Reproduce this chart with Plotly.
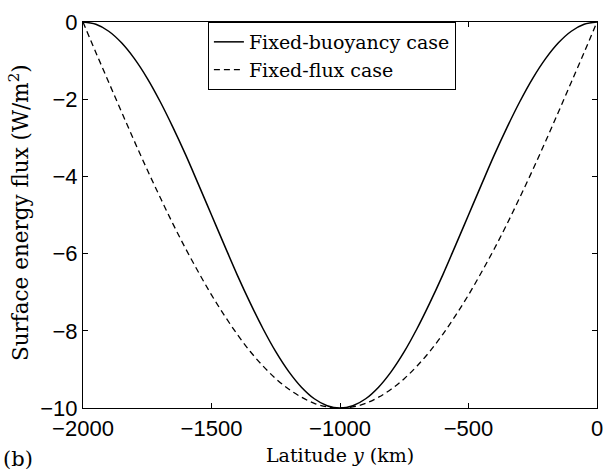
import plotly.graph_objects as go

# Latitude (km)
latitude = [-2000, -1950, -1900, -1850, -1800, -1750, -1700, -1650, -1600, -1550,
            -1500, -1450, -1400, -1350, -1300, -1250, -1200, -1150, -1100, -1050,
            -1000, -950, -900, -850, -800, -750, -700, -650, -600, -550,
            -500, -450, -400, -350, -300, -250, -200, -150, -100, -50, 0]

# Surface energy flux (W/m^2)
fixed_buoyancy = [0.00, -0.06, -0.24, -0.54, -0.95, -1.46, -2.06, -2.73, -3.45, -4.22,
                  -5.00, -5.78, -6.55, -7.27, -7.94, -8.54, -9.05, -9.46, -9.76, -9.94,
                  -10.00, -9.94, -9.76, -9.46, -9.05, -8.54, -7.94, -7.27, -6.55, -5.78,
                  -5.00, -4.22, -3.45, -2.73, -2.06, -1.46, -0.95, -0.54, -0.24, -0.06, 0.00]
fixed_flux = [0.00, -0.79, -1.56, -2.33, -3.09, -3.83, -4.54, -5.23, -5.88, -6.49,
              -7.07, -7.60, -8.09, -8.53, -8.91, -9.24, -9.51, -9.72, -9.88, -9.97,
              -10.00, -9.97, -9.88, -9.72, -9.51, -9.24, -8.91, -8.53, -8.09, -7.60,
              -7.07, -6.49, -5.88, -5.23, -4.54, -3.83, -3.09, -2.33, -1.56, -0.79, 0.00]

x_ticks = [-2000, -1500, -1000, -500, 0]
x_ticktext = ["\u22122000", "\u22121500", "\u22121000", "\u2212500", "0"]
y_ticks = [-10, -8, -6, -4, -2, 0]
y_ticktext = ["\u221210", "\u22128", "\u22126", "\u22124", "\u22122", "0"]

serif = "DejaVu Serif"
sans = "Liberation Sans, Arial, sans-serif"

fig = go.Figure()
fig.add_trace(go.Scatter(x=latitude, y=fixed_buoyancy, mode="lines",
                         name="Fixed-buoyancy case",
                         line=dict(color="black", width=1.5, shape="spline")))
fig.add_trace(go.Scatter(x=latitude, y=fixed_flux, mode="lines",
                         name="Fixed-flux case",
                         line=dict(color="black", width=1.3, dash="6px,4px", shape="spline")))

axis_common = dict(showgrid=False, zeroline=False, showline=True, linecolor="black",
                   linewidth=1.2, mirror="ticks", ticks="inside", ticklen=5,
                   tickcolor="black", tickwidth=1, ticklabeloverflow="allow",
                   tickfont=dict(family=sans, size=22, color="black"))

fig.update_xaxes(range=[-2000, 0], tickvals=x_ticks, ticktext=x_ticktext, **axis_common)
fig.update_yaxes(range=[-10, 0], tickvals=y_ticks, ticktext=y_ticktext, **axis_common)

fig.update_layout(
    width=613, height=472,
    margin=dict(l=83, r=10, t=12, b=64),
    paper_bgcolor="white", plot_bgcolor="white",
    showlegend=True,
    legend=dict(x=0.243, y=1.0, xanchor="left", yanchor="top",
                bgcolor="white", bordercolor="black", borderwidth=1,
                font=dict(family=serif, size=19, color="black"),
                tracegroupgap=0, itemwidth=30),
    annotations=[
        dict(text="Latitude <i>y</i> (km)", xref="paper", yref="paper", x=0.5, y=0,
             xanchor="center", yanchor="middle", yshift=-47, showarrow=False,
             font=dict(family=serif, size=19, color="black")),
        dict(text="Surface energy flux (W/m<sup>2</sup>)", xref="paper", yref="paper",
             x=0, y=0.505, xshift=-64, xanchor="center", yanchor="middle",
             textangle=-90, showarrow=False,
             font=dict(family=serif, size=21.5, color="black")),
        dict(text="(b)", xref="paper", yref="paper", x=0, y=0, xshift=-65, yshift=-51,
             xanchor="center", yanchor="middle", showarrow=False,
             font=dict(family=serif, size=21, color="black")),
    ],
)

fig.write_html("out.html", config={"displayModeBar": False},
               post_script="document.body.style.margin='0';")
